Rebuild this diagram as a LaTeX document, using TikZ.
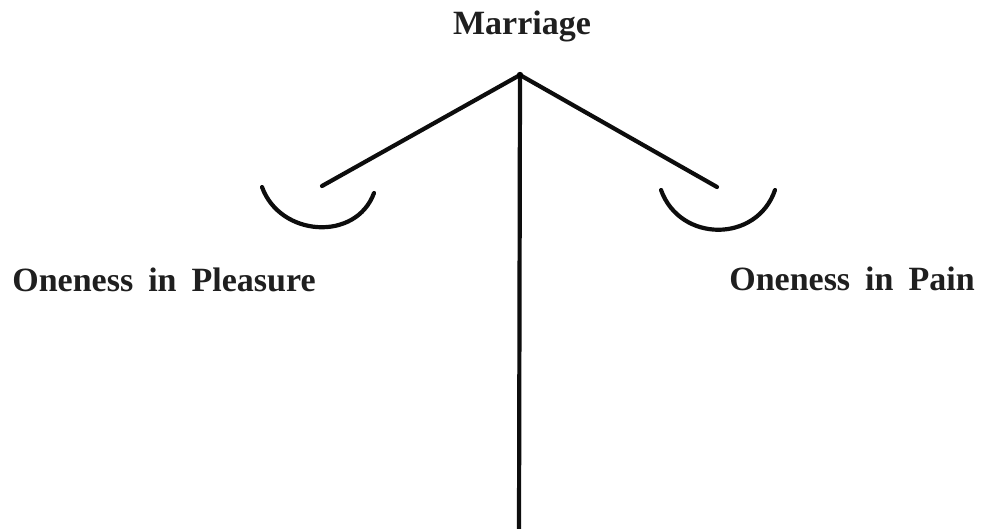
\documentclass[tikz,border=0pt]{standalone}
\usepackage{fontspec}
\setmainfont{Liberation Serif}
\newcommand{\widespace}{\spaceskip=15pt\relax}
\begin{document}
\begin{tikzpicture}[x=1pt,y=-1pt,
  beam/.style={line width=4.2pt,line cap=round,line join=round,black!95},
  txt/.style={font=\bfseries\fontsize{34}{40}\selectfont\widespace,anchor=base,inner sep=0pt,text=black!88}]
\useasboundingbox (0,0) rectangle (981,529);
\coordinate (apex) at (520,75);
\coordinate (foot) at (519,529);
\coordinate (lend) at (322,186);
\coordinate (rend) at (717,187);
\coordinate (lpa) at (262,187);
\coordinate (lpb) at (374,193);
\coordinate (rpa) at (661,190);
\coordinate (rpb) at (775,190);
\node[txt] (title) at (522,35) {Marriage};
\node[txt] (left) at (164,291) {Oneness in Pleasure};
\node[txt] (right) at (852,290) {Oneness in Pain};
\draw[beam] (apex) -- (foot);
\draw[beam] (lend) -- (apex) -- (rend);
\fill[black] (apex) circle (3.2pt);
\draw[beam] (lpa) .. controls (280,237) and (356,242) .. (lpb);
\draw[beam] (rpa) .. controls (680,243) and (757,243) .. (rpb);
\end{tikzpicture}
\end{document}
